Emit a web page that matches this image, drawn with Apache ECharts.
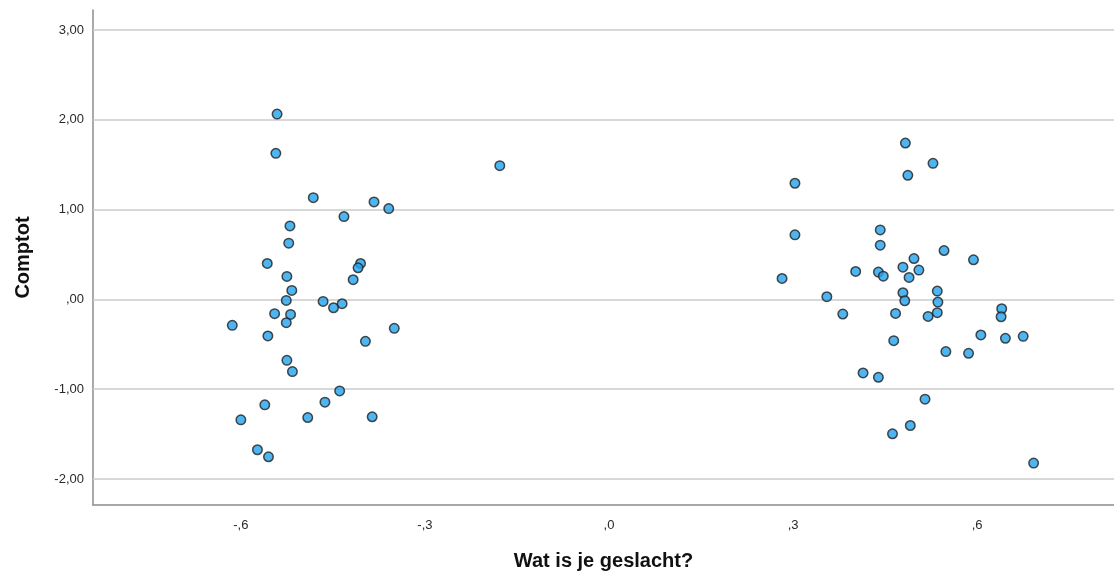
<!DOCTYPE html>
<html>
<head>
<meta charset="utf-8">
<title>Comptot naar geslacht</title>
<script src="https://cdn.jsdelivr.net/npm/echarts@6/dist/echarts.min.js"></script>
<style>
  html, body { margin: 0; padding: 0; background: #ffffff; }
  #chart { width: 1114px; height: 576px; }
</style>
</head>
<body>
<div id="chart"></div>
<script>
// Geslacht (met spreiding) tegen Comptot, twee groepen punten
const xLinks = [-0.541, -0.543, -0.482, -0.383, -0.359, -0.432, -0.520, -0.522, -0.557, -0.405,
                -0.409, -0.525, -0.417, -0.517, -0.526, -0.466, -0.449, -0.435, -0.545, -0.519,
                -0.526, -0.614, -0.350, -0.556, -0.397, -0.525, -0.516, -0.439, -0.561, -0.463,
                -0.600, -0.491, -0.386, -0.573, -0.555, -0.178];
const yLinks = [2.063, 1.626, 1.133, 1.085, 1.011, 0.922, 0.818, 0.626, 0.400, 0.400,
                0.352, 0.256, 0.219, 0.100, -0.011, -0.022, -0.093, -0.048, -0.159, -0.167,
                -0.259, -0.289, -0.322, -0.407, -0.467, -0.678, -0.804, -1.019, -1.174, -1.144,
                -1.341, -1.315, -1.307, -1.674, -1.752, 1.489];

const xRechts = [0.483, 0.528, 0.487, 0.303, 0.303, 0.442, 0.442, 0.546, 0.594, 0.497,
                 0.479, 0.505, 0.402, 0.439, 0.447, 0.489, 0.282, 0.355, 0.479, 0.535,
                 0.482, 0.536, 0.640, 0.381, 0.467, 0.520, 0.535, 0.639, 0.606, 0.646,
                 0.675, 0.464, 0.549, 0.586, 0.414, 0.439, 0.515, 0.491, 0.462, 0.692];
const yRechts = [1.741, 1.515, 1.382, 1.293, 0.719, 0.774, 0.604, 0.544, 0.441, 0.455,
                 0.359, 0.326, 0.311, 0.304, 0.259, 0.244, 0.233, 0.030, 0.074, 0.093,
                 -0.015, -0.030, -0.104, -0.163, -0.156, -0.189, -0.148, -0.193, -0.396, -0.433,
                 -0.411, -0.459, -0.581, -0.600, -0.819, -0.867, -1.111, -1.404, -1.496, -1.822];

const yTicks = [-2, -1, 0, 1, 2, 3];
const xTicks = [-0.6, -0.3, 0, 0.3, 0.6];

const xMin = -0.841, xMax = 0.823;
const yMin = -2.289, yMax = 3.222;

// Dutch decimal notation without leading zero: ",00", "-1,00", "-,6"
function nlGetal(v, dec) {
  let s = Math.abs(v).toFixed(dec).replace('.', ',');
  if (s.startsWith('0,')) s = s.slice(1);
  return (v < 0 ? '-' : '') + s;
}
function isTick(list, v) {
  return list.some(t => Math.abs(t - v) < 1e-6);
}

const pairs = (xs, ys) => xs.map((x, i) => [x, ys[i]]);

const puntStijl = {
  color: '#22a2ee',
  borderColor: '#1f1f1f',
  borderWidth: 1.5
};

const chart = echarts.init(document.getElementById('chart'), null, { renderer: 'canvas' });
chart.setOption({
  animation: false,
  backgroundColor: '#ffffff',
  grid: { left: 93, right: 0, top: 10, bottom: 70, containLabel: false },
  xAxis: {
    type: 'value',
    min: xMin,
    max: xMax,
    splitNumber: 5,
    name: 'Wat is je geslacht?',
    nameLocation: 'middle',
    nameGap: 46,
    nameTextStyle: { fontFamily: 'Liberation Sans', fontWeight: 'bold', fontSize: 20, color: '#111' },
    axisLine: { show: true, onZero: false, lineStyle: { color: '#8c8c8c', width: 1.5 } },
    axisTick: { show: false },
    splitLine: { show: false },
    axisLabel: {
      margin: 14,
      fontFamily: 'Liberation Sans',
      fontSize: 13,
      color: '#2a2a2a',
      showMinLabel: false,
      showMaxLabel: false,
      formatter: v => isTick(xTicks, v) ? nlGetal(v, 1) : ''
    }
  },
  yAxis: {
    type: 'value',
    min: yMin,
    max: yMax,
    splitNumber: 5,
    name: 'Comptot',
    nameLocation: 'middle',
    nameGap: 60,
    nameTextStyle: { fontFamily: 'Liberation Sans', fontWeight: 'bold', fontSize: 20, color: '#111' },
    axisLine: { show: true, onZero: false, lineStyle: { color: '#8c8c8c', width: 1.5 } },
    axisTick: { show: false },
    splitLine: { show: false },
    axisLabel: {
      margin: 9,
      fontFamily: 'Liberation Sans',
      fontSize: 13,
      color: '#2a2a2a',
      showMinLabel: false,
      showMaxLabel: false,
      formatter: v => isTick(yTicks, v) ? nlGetal(v, 2) : ''
    }
  },
  series: [
    {
      // horizontal reference lines at each labelled y value
      type: 'line',
      data: [],
      silent: true,
      z: 1,
      markLine: {
        silent: true,
        symbol: 'none',
        z: 1,
        label: { show: false },
        lineStyle: { color: '#cbcbcb', width: 1.6, type: 'solid' },
        data: yTicks.map(v => ({ yAxis: v }))
      }
    },
    {
      type: 'scatter',
      z: 3,
      symbol: 'circle',
      symbolSize: 9.5,
      itemStyle: puntStijl,
      data: pairs(xLinks, yLinks)
    },
    {
      type: 'scatter',
      z: 3,
      symbol: 'circle',
      symbolSize: 9.5,
      itemStyle: puntStijl,
      data: pairs(xRechts, yRechts)
    }
  ]
});
</script>
</body>
</html>
